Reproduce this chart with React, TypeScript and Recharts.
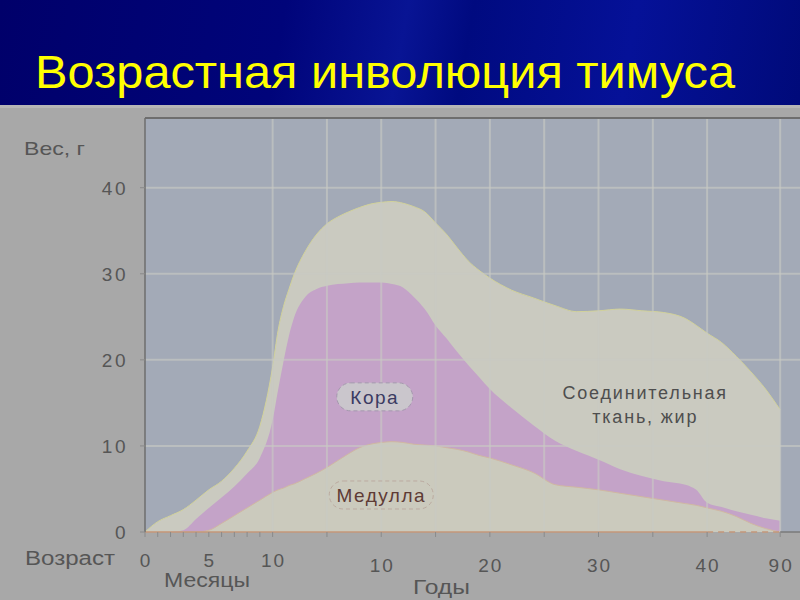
import React from 'react';
import { AreaChart, Area, XAxis, YAxis, CartesianGrid, ReferenceLine, ReferenceDot } from 'recharts';

// first segment of the age axis: months after birth
const monthAges = [0, 1, 2, 3, 4, 5, 6, 7, 8, 9, 10];
const monthTotal = [0, 1.2, 1.9, 2.6, 3.7, 4.9, 5.9, 7.4, 9.4, 12.3, 19.2];
const monthParenchyma = [0, 0, 0, 0.2, 1.5, 2.8, 4.0, 5.3, 6.8, 8.6, 13.0];
const monthMedulla = [0, 0, 0, 0, 0, 0.2, 1.0, 1.9, 2.8, 3.7, 4.6];

// second segment: years
const yearAges = [0.5, 1, 1.5, 2, 3, 4, 5, 6, 7, 8, 9, 10, 11, 12, 13, 14, 15, 16, 17, 18, 19, 20, 22, 24, 26, 28, 30, 32, 34, 36, 38, 39, 40, 50, 60, 70, 80, 90];
const yearTotal = [23.4, 26.2, 28.2, 30.0, 32.6, 34.5, 35.8, 36.6, 37.2, 37.7, 38.1, 38.3, 38.4, 38.2, 37.8, 37.2, 35.9, 34.6, 33.0, 31.5, 30.4, 29.5, 28.1, 27.2, 26.3, 25.6, 25.7, 25.9, 25.7, 25.5, 24.8, 24.0, 23.1, 22.0, 20.4, 18.6, 16.6, 14.2];
const yearParenchyma = [16.5, 19.8, 22.8, 25.0, 27.3, 28.2, 28.6, 28.8, 28.9, 29.0, 29.0, 29.0, 28.8, 28.4, 27.3, 25.9, 24.0, 22.5, 20.9, 19.4, 18.0, 16.6, 14.4, 12.4, 10.6, 9.4, 8.4, 7.3, 6.5, 5.9, 5.5, 4.9, 3.4, 2.9, 2.4, 2.0, 1.6, 1.3];
const yearMedulla = [4.9, 5.1, 5.4, 5.6, 6.2, 6.8, 7.5, 8.3, 9.1, 9.8, 10.2, 10.4, 10.5, 10.4, 10.2, 10.1, 10.0, 9.8, 9.6, 9.3, 8.9, 8.6, 7.8, 6.9, 5.5, 5.2, 4.9, 4.5, 4.1, 3.7, 3.3, 3.1, 2.8, 2.4, 1.8, 1.0, 0.4, 0];

const weightTicks = [0, 10, 20, 30, 40];
const monthTicks = [0, 1, 2, 3, 4, 5, 6, 7, 8, 9, 10];
const monthTickLabels = ['0', '', '', '', '', '5', '', '', '', '', '10'];
const yearTicks = [5, 10, 15, 20, 25, 30, 35, 40, 90];
const yearTickLabels = ['', '10', '', '20', '', '30', '', '40', '90'];

// piecewise age axis: 0-10 months, then 0-40 years, then a squeezed 40-90 stretch
const monthPos = (m: number) => (m / 10) * 2.35;
const yearPos = (y: number) => (y <= 40 ? 2.35 + y / 5 : 10.35 + ((y - 40) / 50) * 1.345);
const X_MAX = 12.06;
const Y_MAX = 48.1;

const data = [
  ...monthAges.map((m, i) => ({ pos: monthPos(m), total: monthTotal[i], parenchyma: monthParenchyma[i], medulla: monthMedulla[i] })),
  ...yearAges.map((y, i) => ({ pos: yearPos(y), total: yearTotal[i], parenchyma: yearParenchyma[i], medulla: yearMedulla[i] })),
];

const ticks = [
  ...monthTicks.map((m, i) => ({ pos: monthPos(m), label: monthTickLabels[i], row: 0 })),
  ...yearTicks.map((y, i) => ({ pos: yearPos(y), label: yearTickLabels[i], row: 1 })),
];
const gridX = [monthPos(10), ...yearTicks.map(yearPos)];

const font = '"Liberation Sans", Arial, sans-serif';
const textGray = '#565656';
const gridStroke = 'rgba(200,201,195,0.62)';

const AgeTick = (props: any) => {
  const { x, y, payload } = props;
  const t = ticks.find((k) => Math.abs(k.pos - payload.value) < 1e-6);
  if (!t || !t.label) return <g />;
  return (
    <text x={x + 1} y={y + (t.row ? 33 : 28)} textAnchor="middle" fill={textGray} fontSize={19} fontFamily={font} letterSpacing={2}>
      {t.label}
    </text>
  );
};

const WeightTick = (props: any) => {
  const { x, y, payload } = props;
  return (
    <text x={x} y={y + 7} textAnchor="end" fill={textGray} fontSize={19} fontFamily={font} letterSpacing={2.5}>
      {payload.value}
    </text>
  );
};

const boxLabel = (text: string, w: number, fill: string, stroke: string, color: string) => (p: any) => (
  <g>
    <rect x={p.cx - w / 2} y={p.cy - 14} width={w} height={28} rx={14} fill={fill} stroke={stroke} strokeDasharray="4 3" />
    <text x={p.cx} y={p.cy + 7} textAnchor="middle" fill={color} fontSize={19} fontFamily={font} letterSpacing={1.5}>{text}</text>
  </g>
);

const tissueLabel = (p: any) => (
  <text textAnchor="middle" fill="#4e4e4e" fontSize={18} fontFamily={font} letterSpacing={1.8}>
    <tspan x={p.cx} y={p.cy - 6}>Соединительная</tspan>
    <tspan x={p.cx} y={p.cy + 18}>ткань, жир</tspan>
  </text>
);

export default function App() {
  return (
    <div style={{ position: 'absolute', left: 0, top: 0, width: 800, height: 600, background: '#a8a8a8', overflow: 'hidden' }}>
      <div style={{ position: 'absolute', left: 0, top: 0, width: 800, height: 105, background: 'linear-gradient(100deg, #00006a 0%, #00047a 35%, #081494 50%, #000a80 58%, #051198 78%, #000a7a 100%)' }} />
      <div style={{ position: 'absolute', left: 0, top: 105, width: 800, height: 3, background: '#b6b6b6' }} />
      <div style={{ position: 'absolute', left: 0, top: 105 }}>
        <AreaChart width={800} height={495} data={data} margin={{ top: 13, right: 0, bottom: 0, left: 0 }}>
          <CartesianGrid fill="#a3aab7" stroke="none" horizontal={false} vertical={false} />
          <XAxis type="number" dataKey="pos" domain={[0, X_MAX]} allowDataOverflow ticks={ticks.map((t) => t.pos)} interval={0}
            tick={AgeTick} tickSize={5} tickLine={{ stroke: '#8a8a8a' }} axisLine={false} height={68} />
          <YAxis type="number" domain={[0, Y_MAX]} allowDataOverflow ticks={weightTicks} interval={0} width={145}
            tick={WeightTick} tickSize={5} tickMargin={12}
            tickLine={{ stroke: '#8a8a8a' }} axisLine={{ stroke: '#6e6e6e', strokeWidth: 1.5 }} />
          <Area dataKey="total" type="monotone" fill="#cacac0" fillOpacity={1} stroke="#d2d29a" strokeWidth={1} dot={false} activeDot={false} isAnimationActive={false} />
          <Area dataKey="parenchyma" type="monotone" fill="#c4a3c8" fillOpacity={1} stroke="none" dot={false} activeDot={false} isAnimationActive={false} />
          <Area dataKey="medulla" type="monotone" fill="#cbcabd" fillOpacity={1} stroke="#d0b8a2" strokeWidth={1} dot={false} activeDot={false} isAnimationActive={false} />
          {weightTicks.slice(1).map((v) => (
            <ReferenceLine key={'h' + v} y={v} stroke={gridStroke} strokeWidth={2} />
          ))}
          {gridX.map((v, i) => (
            <ReferenceLine key={'v' + i} x={v} stroke={gridStroke} strokeWidth={2} />
          ))}
          <ReferenceLine y={Y_MAX} stroke="#6e6e6e" strokeWidth={2} />
          <ReferenceLine segment={[{ x: 0, y: 0 }, { x: yearPos(40), y: 0 }]} stroke="#c4977a" strokeWidth={1.5} />
          <ReferenceLine segment={[{ x: yearPos(40), y: 0 }, { x: yearPos(90), y: 0 }]} stroke="#c4977a" strokeWidth={1.5} strokeDasharray="6 5" />
          <ReferenceLine segment={[{ x: yearPos(90), y: 0 }, { x: X_MAX, y: 0 }]} stroke="#7a7a7a" strokeWidth={1.5} />
          <ReferenceDot x={yearPos(9.4)} y={15.7} r={0} shape={boxLabel('Кора', 76, '#cac6cc', '#a598ae', '#3b3b62')} />
          <ReferenceDot x={yearPos(10)} y={4.3} r={0} shape={boxLabel('Медулла', 104, 'none', '#bbaaa0', '#5e3b35')} />
          <ReferenceDot x={yearPos(34.3)} y={14.75} r={0} shape={tissueLabel} />
        </AreaChart>
      </div>
      <svg width={800} height={600} style={{ position: 'absolute', left: 0, top: 0, pointerEvents: 'none' }}>
        <text x={35} y={88} fill="#ffff00" fontSize={46} fontFamily={font} textLength={700} lengthAdjust="spacingAndGlyphs">Возрастная инволюция тимуса</text>
        <text x={24} y={155} fill={textGray} fontSize={19} fontFamily={font} textLength={61} lengthAdjust="spacingAndGlyphs">Вес, г</text>
        <text x={25} y={565} fill={textGray} fontSize={20} fontFamily={font} textLength={90} lengthAdjust="spacingAndGlyphs">Возраст</text>
        <text x={164} y={587} fill={textGray} fontSize={20} fontFamily={font} textLength={86} lengthAdjust="spacingAndGlyphs">Месяцы</text>
        <text x={413} y={594} fill={textGray} fontSize={20} fontFamily={font} textLength={57} lengthAdjust="spacingAndGlyphs">Годы</text>
      </svg>
    </div>
  );
}
